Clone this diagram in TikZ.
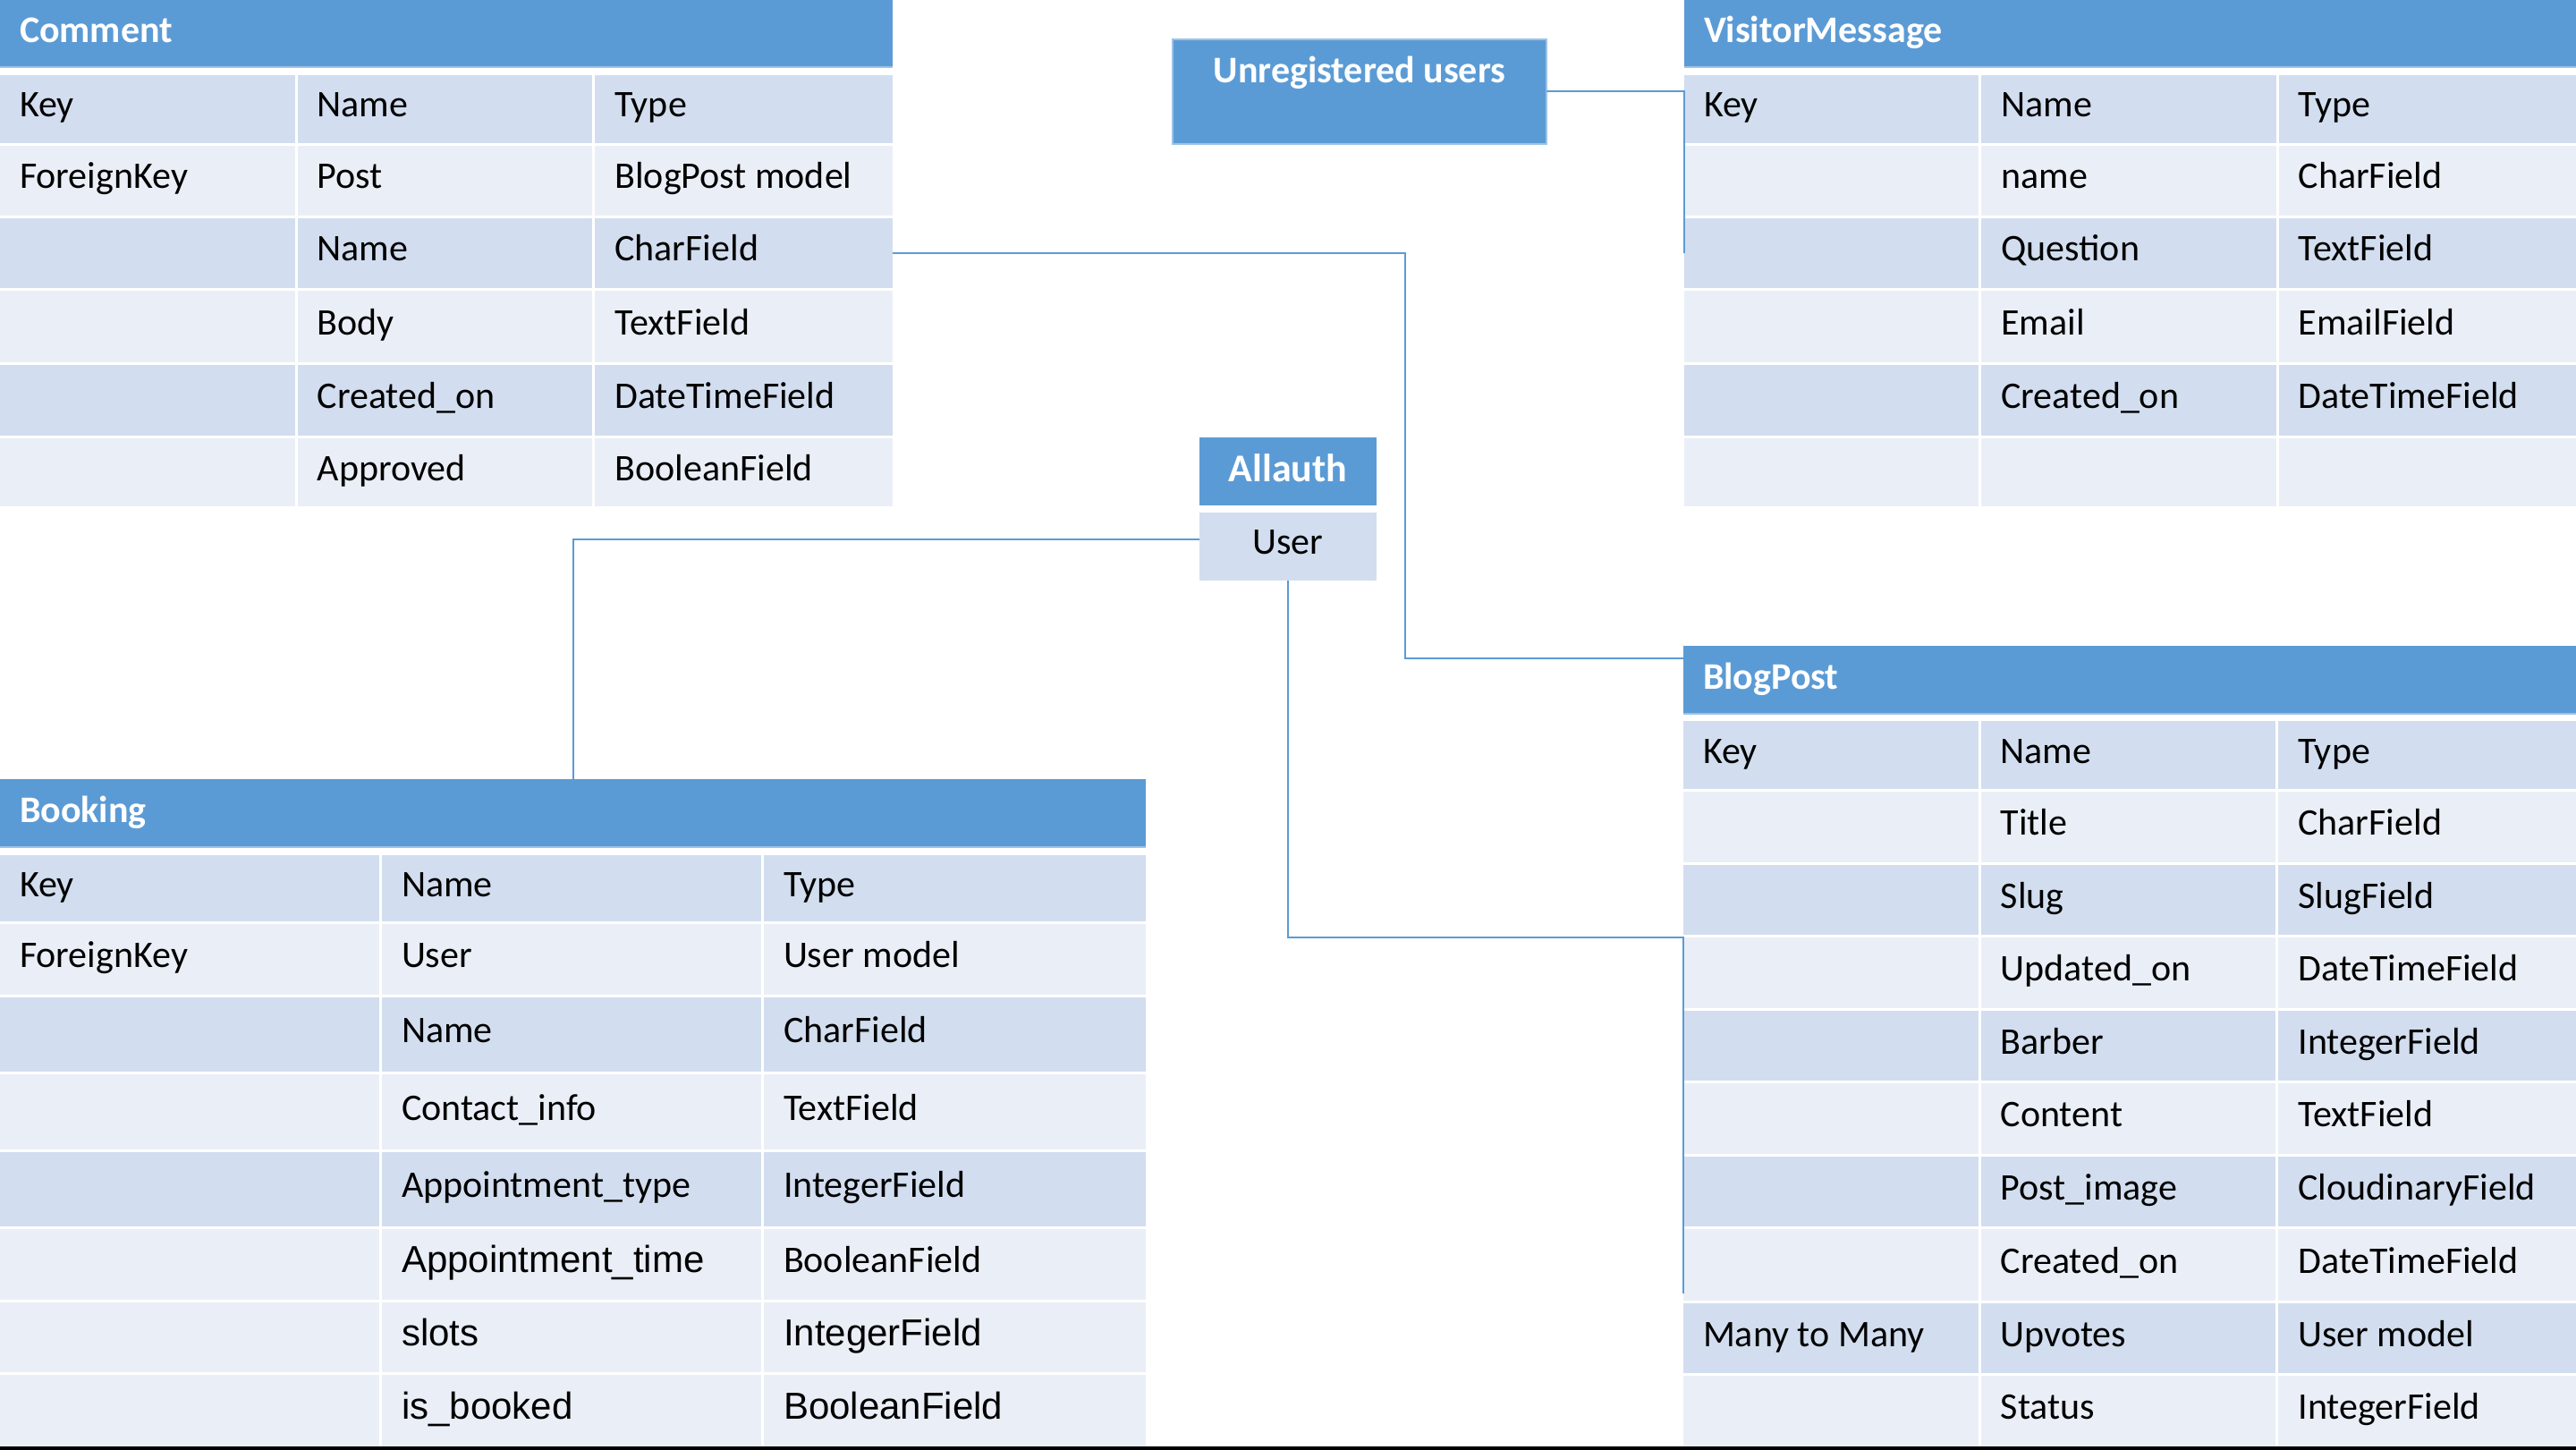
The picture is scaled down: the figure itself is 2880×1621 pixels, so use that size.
\documentclass[tikz,border=0pt]{standalone}
\usepackage{fontspec}
\setmainfont{Carlito}
\newfontfamily\arialf{Liberation Sans}
\usetikzlibrary{calc}
\definecolor{hdr}{HTML}{5B9BD5}
\definecolor{rowd}{HTML}{D2DEEF}
\definecolor{rowl}{HTML}{EAEFF7}
\definecolor{hdrline}{HTML}{9DC3E6}
\tikzset{
  cellbox/.style={draw=none, inner sep=0pt, outer sep=0pt, anchor=north west},
  celltext/.style={inner sep=0pt, outer sep=0pt, anchor=base west, font=\fontsize{42}{50}\selectfont, text=black},
  hdrtext/.style={inner sep=0pt, outer sep=0pt, anchor=base west, font=\fontsize{42}{50}\selectfont\bfseries, text=white},
  boxtext/.style={inner sep=0pt, outer sep=0pt, anchor=base, font=\fontsize{42}{50}\selectfont},
  conn/.style={draw=hdr, line width=2pt},
}
% #1 name, #2 x0, #3 column width, #4 top, #5 bottom, #6 fill, #7-#9 texts
\newcommand\drow[9]{%
  \pgfmathsetmacro\cw{#3-3}%
  \pgfmathsetmacro\cwl{#3}%
  \pgfmathsetmacro\ch{#5-#4}%
  \pgfmathsetmacro\xb{#2+#3}%
  \pgfmathsetmacro\xc{#2+2*#3}%
  \node[cellbox, fill=#6, minimum width=\cw pt, minimum height=\ch pt] (#1a) at (#2,#4) {};
  \node[cellbox, fill=#6, minimum width=\cw pt, minimum height=\ch pt] (#1b) at (\xb,#4) {};
  \node[cellbox, fill=#6, minimum width=\cwl pt, minimum height=\ch pt] (#1c) at (\xc,#4) {};
  \node[celltext] (#1ta) at ($(#1a.west)+(22,9)$) {#7};
  \node[celltext] (#1tb) at ($(#1b.west)+(22,9)$) {#8};
  \node[celltext] (#1tc) at ($(#1c.west)+(22,9)$) {#9};
}
% #1 name, #2 x0, #3 width, #4 top, #5 bottom, #6 title
\newcommand\dhead[6]{%
  \pgfmathsetmacro\hw{#3}%
  \pgfmathsetmacro\hh{#5-#4}%
  \node[cellbox, fill=hdr, minimum width=\hw pt, minimum height=\hh pt] (#1) at (#2,#4) {};
  \fill[hdrline] (#1.south west) rectangle ($(#1.south east)+(0,2)$);
  \node[hdrtext] (#1t) at ($(#1.west)+(22,11)$) {#6};
}
\begin{document}
\begin{tikzpicture}[x=1pt,y=-1pt]
\useasboundingbox (0,0) rectangle (2880,1621);
\fill[white] (0,0) rectangle (2880,1621);

% ---------------- Comment ----------------
\dhead{comh}{0}{998}{0}{74}{Comment}
\drow{cr1}{0}{332.7}{84}{160}{rowd}{Key}{Name}{Type}
\drow{cr2}{0}{332.7}{163}{241}{rowl}{ForeignKey}{Post}{BlogPost model}
\drow{cr3}{0}{332.7}{244}{322}{rowd}{}{Name}{CharField}
\drow{cr4}{0}{332.7}{325}{405}{rowl}{}{Body}{TextField}
\drow{cr5}{0}{332.7}{408}{487}{rowd}{}{Created\_on}{DateTimeField}
\drow{cr6}{0}{332.7}{490}{566}{rowl}{}{Approved}{BooleanField}

% ---------------- VisitorMessage ----------------
\dhead{vmh}{1883}{997}{0}{74}{VisitorMessage}
\drow{vr1}{1883}{332.3}{84}{160}{rowd}{Key}{Name}{Type}
\drow{vr2}{1883}{332.3}{163}{241}{rowl}{}{name}{CharField}
\drow{vr3}{1883}{332.3}{244}{322}{rowd}{}{Question}{TextField}
\drow{vr4}{1883}{332.3}{325}{405}{rowl}{}{Email}{EmailField}
\drow{vr5}{1883}{332.3}{408}{487}{rowd}{}{Created\_on}{DateTimeField}
\drow{vr6}{1883}{332.3}{490}{566}{rowl}{}{}{}

% ---------------- BlogPost ----------------
\dhead{bph}{1882}{998}{722}{797}{BlogPost}
\drow{br1}{1882}{332.7}{806}{882}{rowd}{Key}{Name}{Type}
\drow{br2}{1882}{332.7}{885}{964}{rowl}{}{Title}{CharField}
\drow{br3}{1882}{332.7}{967}{1045}{rowd}{}{Slug}{SlugField}
\drow{br4}{1882}{332.7}{1048}{1127}{rowl}{}{Updated\_on}{DateTimeField}
\drow{br5}{1882}{332.7}{1130}{1208}{rowd}{}{Barber}{IntegerField}
\drow{br6}{1882}{332.7}{1211}{1290}{rowl}{}{Content}{TextField}
\drow{br7}{1882}{332.7}{1293}{1371}{rowd}{}{Post\_image}{CloudinaryField}
\drow{br8}{1882}{332.7}{1374}{1454}{rowl}{}{Created\_on}{DateTimeField}
\drow{br9}{1882}{332.7}{1457}{1535}{rowd}{Many to Many}{Upvotes}{User model}
\drow{br10}{1882}{332.7}{1538}{1617}{rowl}{}{Status}{IntegerField}

% ---------------- Booking ----------------
\dhead{bkh}{0}{1281}{871}{946}{Booking}
\drow{kr1}{0}{427}{956}{1030}{rowd}{Key}{Name}{Type}
\drow{kr2}{0}{427}{1033}{1112}{rowl}{ForeignKey}{User}{User model}
\drow{kr3}{0}{427}{1115}{1198}{rowd}{}{Name}{CharField}
\drow{kr4}{0}{427}{1201}{1285}{rowl}{}{Contact\_info}{TextField}
\drow{kr5}{0}{427}{1288}{1371}{rowd}{}{Appointment\_type}{IntegerField}
\drow{kr6}{0}{427}{1374}{1453}{rowl}{}{{\arialf\fontsize{42}{50}\selectfont Appointment\_time}}{BooleanField}
\drow{kr7}{0}{427}{1456}{1534}{rowl}{}{{\arialf\fontsize{42}{50}\selectfont slots}}{{\arialf\fontsize{42}{50}\selectfont IntegerField}}
\drow{kr8}{0}{427}{1537}{1617}{rowl}{}{{\arialf\fontsize{42}{50}\selectfont is\_booked}}{{\arialf\fontsize{42}{50}\selectfont BooleanField}}

% ---------------- Unregistered users ----------------
\node[cellbox, fill=hdr, draw=hdrline, line width=1.5pt, minimum width=418pt, minimum height=117pt] (unreg) at (1311,44) {};
\node[boxtext, text=white, font=\fontsize{42}{50}\selectfont\bfseries] (unregt) at (1520,93) {Unregistered users};

% ---------------- Allauth / User ----------------
\node[cellbox, fill=hdr, minimum width=198pt, minimum height=76pt] (allauth) at (1341,489) {};
\node[boxtext, text=white, font=\fontsize{44}{52}\selectfont\bfseries] (allautht) at (1440,538) {Allauth};
\node[cellbox, fill=rowd, minimum width=198pt, minimum height=76pt] (user) at (1341,573) {};
\node[boxtext, text=black] (usert) at (1440,619) {User};

% ---------------- Connectors ----------------
\coordinate (vmend) at (1883,283);
\draw[conn] (unreg.east) -| (vmend);

\coordinate (cbbend) at (1571,736);
\draw[conn] (cr3c.east) -| (cbbend) -- (cbbend -| bph.west);

\draw[conn] ($(user.west)+(0,-8)$) -| (bkh.north);

\coordinate (ubmid) at (1882,1048);
\coordinate (ubend) at (1882,1446);
\draw[conn] (user.south) |- (ubmid) -- (ubend);

% bottom black line
\fill[black] (0,1617) rectangle (2880,1621);
\end{tikzpicture}
\end{document}
